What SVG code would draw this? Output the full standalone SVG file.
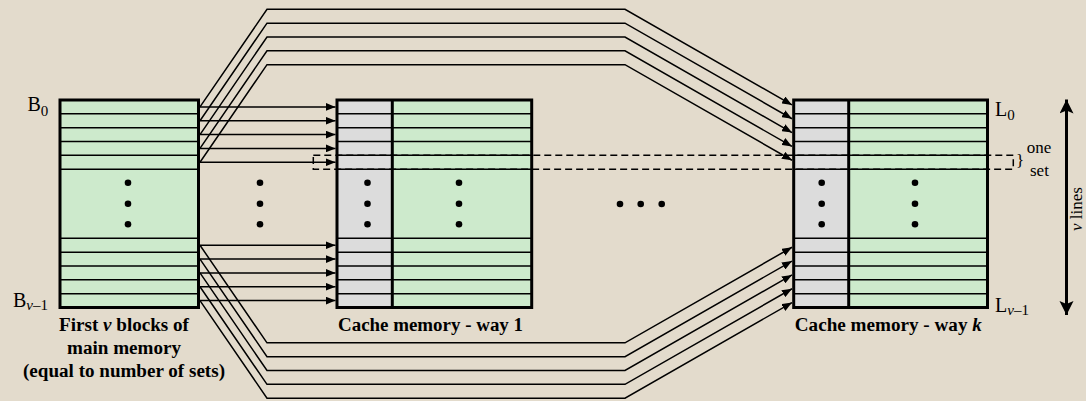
<svg xmlns="http://www.w3.org/2000/svg" width="1086" height="401" viewBox="0 0 1086 401">
<defs>
<style>
.bg{fill:#e3dbcc}
.green{fill:#cdeacc}
.gray{fill:#dcdcdc}
.row{stroke:#000;stroke-width:1.5;fill:none}
.border{stroke:#000;stroke-width:3;fill:none}
.conn{stroke:#000;stroke-width:1.5;fill:none;marker-end:url(#ah)}
.dash{stroke:#000;stroke-width:1.5;fill:none;stroke-dasharray:7 4}
.dot{fill:#000}
.lbl{font-family:"Liberation Serif","Times New Roman",serif;font-size:20px;fill:#000}
.sub{font-family:"Liberation Serif","Times New Roman",serif;font-size:15px;fill:#000}
.cap{font-family:"Liberation Serif","Times New Roman",serif;font-size:18px;font-weight:bold;fill:#000;text-anchor:middle}
.small{font-family:"Liberation Serif","Times New Roman",serif;font-size:17px;fill:#000}
</style>
<marker id="ah" markerUnits="userSpaceOnUse" markerWidth="10" markerHeight="8" refX="10" refY="4" orient="auto">
<path d="M0,0 L10,4 L0,8 z" fill="#000"/>
</marker>
<marker id="big" markerUnits="userSpaceOnUse" markerWidth="14" markerHeight="16" refX="14" refY="7" orient="auto">
<path d="M0,0 L14,7 L0,14 L3,7 z" fill="#000"/>
</marker>
</defs>
<rect class="bg" x="0" y="0" width="1086" height="401"/>

<g id="main-memory">
<rect class="green" x="60" y="100" width="138.5" height="207.5"/>
<path class="row" d="M60,113.83H198.5M60,127.67H198.5M60,141.5H198.5M60,155.33H198.5M60,169.17H198.5M60,238.33H198.5M60,252.17H198.5M60,266H198.5M60,279.83H198.5M60,293.67H198.5"/>
<rect class="border" x="60" y="100" width="138.5" height="207.5"/>
<circle class="dot" cx="128" cy="182.7" r="3.3"/>
<circle class="dot" cx="128" cy="203.7" r="3.3"/>
<circle class="dot" cx="128" cy="224.3" r="3.3"/>
<text class="lbl" x="27.5" y="110.7">B<tspan class="sub" dy="5.5">0</tspan></text>
<text class="lbl" x="13" y="306.5">B<tspan class="sub" dy="3.5"><tspan font-style="italic">v</tspan>–1</tspan></text>
<text class="cap" x="124" y="330.5" textLength="130" lengthAdjust="spacingAndGlyphs">First <tspan font-style="italic">v</tspan> blocks of</text>
<text class="cap" x="124" y="354" textLength="114" lengthAdjust="spacingAndGlyphs">main memory</text>
<text class="cap" x="124" y="377" textLength="202" lengthAdjust="spacingAndGlyphs">(equal to number of sets)</text>
</g>

<g id="cache-way-1">
<rect class="gray" x="337" y="100" width="55.3" height="207.5"/>
<rect class="green" x="392.3" y="100" width="139.4" height="207.5"/>
<path class="row" d="M337,113.83H531.7M337,127.67H531.7M337,141.5H531.7M337,155.33H531.7M337,169.17H531.7M337,238.33H531.7M337,252.17H531.7M337,266H531.7M337,279.83H531.7M337,293.67H531.7"/>
<line class="border" x1="392.3" y1="100" x2="392.3" y2="307.5"/>
<rect class="border" x="337" y="100" width="194.7" height="207.5"/>
<circle class="dot" cx="367.5" cy="182.7" r="3.3"/>
<circle class="dot" cx="367.5" cy="203.7" r="3.3"/>
<circle class="dot" cx="367.5" cy="224.3" r="3.3"/>
<circle class="dot" cx="459" cy="182.7" r="3.3"/>
<circle class="dot" cx="459" cy="203.7" r="3.3"/>
<circle class="dot" cx="459" cy="224.3" r="3.3"/>
<text class="cap" x="430.5" y="330.5" textLength="185" lengthAdjust="spacingAndGlyphs">Cache memory - way 1</text>
</g>

<g id="cache-way-k">
<rect class="gray" x="793.7" y="100" width="55" height="207.5"/>
<rect class="green" x="848.7" y="100" width="138.8" height="207.5"/>
<path class="row" d="M793.7,113.83H987.5M793.7,127.67H987.5M793.7,141.5H987.5M793.7,155.33H987.5M793.7,169.17H987.5M793.7,238.33H987.5M793.7,252.17H987.5M793.7,266H987.5M793.7,279.83H987.5M793.7,293.67H987.5"/>
<line class="border" x1="848.7" y1="100" x2="848.7" y2="307.5"/>
<rect class="border" x="793.7" y="100" width="193.8" height="207.5"/>
<circle class="dot" cx="821.7" cy="182.7" r="3.3"/>
<circle class="dot" cx="821.7" cy="203.7" r="3.3"/>
<circle class="dot" cx="821.7" cy="224.3" r="3.3"/>
<circle class="dot" cx="915" cy="182.7" r="3.3"/>
<circle class="dot" cx="915" cy="203.7" r="3.3"/>
<circle class="dot" cx="915" cy="224.3" r="3.3"/>
<text class="lbl" x="995" y="116">L<tspan class="sub" dy="4">0</tspan></text>
<text class="lbl" x="995" y="311.7">L<tspan class="sub" dy="3.5"><tspan font-style="italic">v</tspan>–1</tspan></text>
<text class="cap" x="888.3" y="330.5" textLength="187" lengthAdjust="spacingAndGlyphs">Cache memory - way <tspan font-style="italic">k</tspan></text>
</g>

<g id="ellipsis">
<circle class="dot" cx="260" cy="182.7" r="3.3"/>
<circle class="dot" cx="260" cy="203.7" r="3.3"/>
<circle class="dot" cx="260" cy="224.3" r="3.3"/>
<circle class="dot" cx="620" cy="204" r="3.3"/>
<circle class="dot" cx="640.7" cy="204" r="3.3"/>
<circle class="dot" cx="661.7" cy="204" r="3.3"/>
</g>

<g id="one-set">
<rect class="dash" x="313.3" y="155.33" width="700" height="13.84"/>
<text class="small" x="1016" y="166" font-size="13">}</text>
<text class="small" x="1026.7" y="152.7">one</text>
<text class="small" x="1030" y="176">set</text>
</g>

<g id="v-lines">
<line x1="1066.5" y1="200" x2="1066.5" y2="99.5" stroke="#000" stroke-width="3" marker-end="url(#big)"/>
<line x1="1066.5" y1="200" x2="1066.5" y2="315" stroke="#000" stroke-width="3" marker-end="url(#big)"/>
<text class="small" transform="translate(1082,209) rotate(-90)" text-anchor="middle"><tspan font-style="italic">v</tspan> lines</text>
</g>

<g id="connectors">
<path class="conn" d="M200,106.92H335.5"/>
<path class="conn" d="M200,120.75H335.5"/>
<path class="conn" d="M200,134.58H335.5"/>
<path class="conn" d="M200,148.42H335.5"/>
<path class="conn" d="M200,162.25H335.5"/>
<path class="conn" d="M200,245.25H335.5"/>
<path class="conn" d="M200,259.08H335.5"/>
<path class="conn" d="M200,272.92H335.5"/>
<path class="conn" d="M200,286.75H335.5"/>
<path class="conn" d="M200,300.58H335.5"/>
<path class="conn" d="M200,106.92L267,9.32H625L792,104.9"/>
<path class="conn" d="M200,120.75L267,23.15H625L792,118.75"/>
<path class="conn" d="M200,134.58L267,36.98H625L792,132.58"/>
<path class="conn" d="M200,148.42L267,50.82H625L792,146.42"/>
<path class="conn" d="M200,162.25L267,64.65H625L792,160.25"/>
<path class="conn" d="M200,245.25L267,342.85H625L792,247.25"/>
<path class="conn" d="M200,259.08L267,356.68H625L792,261.08"/>
<path class="conn" d="M200,272.92L267,370.52H625L792,274.92"/>
<path class="conn" d="M200,286.75L267,384.35H625L792,288.75"/>
<path class="conn" d="M200,300.58L267,398.18H625L792,302.58"/>
</g>
</svg>
